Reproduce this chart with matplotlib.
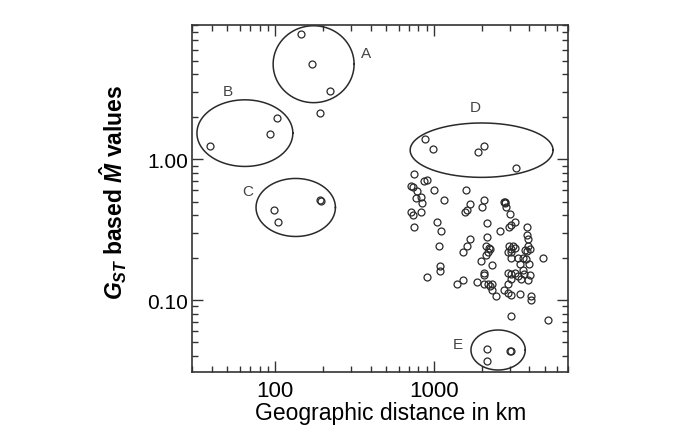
import numpy as np
import matplotlib.pyplot as plt
from matplotlib.ticker import FixedLocator, FixedFormatter, LogLocator, NullFormatter

plt.rcParams['font.family'] = ['Liberation Sans', 'DejaVu Sans']
plt.rcParams['mathtext.fontset'] = 'custom'
plt.rcParams['mathtext.it'] = 'Liberation Sans:italic:bold'
plt.rcParams['mathtext.rm'] = 'Liberation Sans:bold'
plt.rcParams['mathtext.bf'] = 'Liberation Sans:bold'

# geographic distance (km) and Gst based M values
dist = [146, 171, 223, 191,                      # A (+1 outside)
        102.5, 93.4, 38.9,                       # B
        195.5, 193, 99, 104,                     # C
        877, 982, 1892, 2081, 3304,              # D
        750, 714, 743, 868, 912, 780, 826, 769, 847, 1005, 1151, 1593, 1698,
        1617, 1578, 2001, 2080, 2761, 2812, 2790, 2851, 2999, 714, 743, 826,
        750, 1040, 1107, 2162, 2630, 2965, 3069, 3252, 3873, 3873, 3917, 1698,
        1617, 1518, 1080, 2162, 2142, 2239, 2183, 2132, 2270, 2965, 3041, 3148,
        3252, 2924, 3069, 3917, 3767, 3873, 4009, 4864, 1982, 3041, 3381, 3639,
        3820, 3954, 3467, 2317, 1096, 1096, 912, 1398, 1518, 2061, 2080, 1871,
        2061, 2208, 2317, 2270, 2924, 3041, 3252, 3381, 3516, 3639, 3724, 4009,
        3917, 3041, 2924, 2317, 2466, 2786, 2924, 3041, 3467, 4065, 4065, 3069,
        5232,
        2162, 2150, 3041, 3010]                  # E
mval = [7.79, 4.72, 3.05, 2.11,
        1.96, 1.52, 1.24,
        0.506, 0.51, 0.435, 0.357,
        1.39, 1.18, 1.13, 1.24, 0.86,
        0.78, 0.65, 0.63, 0.70, 0.71, 0.59, 0.54, 0.53, 0.49, 0.60, 0.51, 0.60, 0.48,
        0.435, 0.42, 0.454, 0.51, 0.50, 0.49, 0.497, 0.454, 0.41, 0.42, 0.40, 0.42,
        0.33, 0.36, 0.31, 0.35, 0.31, 0.33, 0.34, 0.36, 0.33, 0.29, 0.27, 0.27,
        0.24, 0.22, 0.24, 0.28, 0.24, 0.236, 0.22, 0.21, 0.23, 0.24, 0.23, 0.24,
        0.235, 0.22, 0.22, 0.24, 0.227, 0.224, 0.232, 0.20, 0.19, 0.198, 0.198, 0.198,
        0.195, 0.18, 0.18, 0.178, 0.175, 0.16, 0.146, 0.13, 0.139, 0.155, 0.15, 0.135,
        0.131, 0.131, 0.13, 0.126, 0.155, 0.153, 0.155, 0.149, 0.142, 0.164, 0.153, 0.15,
        0.139, 0.141, 0.13, 0.118, 0.107, 0.118, 0.113, 0.108, 0.11, 0.107, 0.10, 0.077,
        0.072,
        0.045, 0.037, 0.0435, 0.0437]

# ellipses drawn round the groups: centre (data) and half axes in decades
grp = ['A', 'B', 'C', 'D', 'E']
ell_cx = [175, 64.6, 135, 2000, 2541]
ell_cy = [4.72, 1.53, 0.454, 1.158, 0.0442]
ell_rx = [0.255, 0.302, 0.25, 0.45, 0.171]
ell_ry = [0.273, 0.2365, 0.206, 0.193, 0.142]
lab_x = [372, 50.6, 67.8, 1815, 1426]
lab_y = [5.71, 3.05, 0.596, 2.36, 0.0488]

fig = plt.figure(figsize=(6.84, 4.35), dpi=100)
ax = fig.add_axes([0.2807, 0.1432, 0.5497, 0.7977])
ax.set_xscale('log')
ax.set_yscale('log')

ax.plot(dist, mval, 'o', mfc='none', mec='#2a2a2a', ms=5, mew=0.9, ls='none')

t = np.linspace(0, 2 * np.pi, 300)
for g, cx, cy, rx, ry, lx, ly in zip(grp, ell_cx, ell_cy, ell_rx, ell_ry, lab_x, lab_y):
    ex = 10 ** (np.log10(cx) + rx * np.cos(t))
    ey = 10 ** (np.log10(cy) + ry * np.sin(t))
    ax.plot(ex, ey, color='#2a2a2a', lw=1.1)
    ax.text(lx, ly, g, fontsize=11, color='#444444', ha='center', va='center')

ax.set_xlim(30, 7000)
ax.set_ylim(0.031, 9)

ax.xaxis.set_major_locator(FixedLocator([100, 1000]))
ax.xaxis.set_major_formatter(FixedFormatter(['100', '1000']))
ax.yaxis.set_major_locator(FixedLocator([0.1, 1.0]))
ax.yaxis.set_major_formatter(FixedFormatter(['0.10', '1.00']))
for a in (ax.xaxis, ax.yaxis):
    a.set_minor_locator(LogLocator(base=10, subs=np.arange(2, 10), numticks=20))
    a.set_minor_formatter(NullFormatter())

ax.tick_params(which='both', direction='in', top=True, right=True, color='#333333', width=1)
ax.tick_params(which='major', length=8)
ax.tick_params(which='minor', length=4.5)
ax.tick_params(axis='x', labelsize=16, pad=6)
ax.tick_params(axis='y', labelsize=15, pad=3)
for s in ax.spines.values():
    s.set_color('#333333')
    s.set_linewidth(1.2)

ax.set_xlabel('Geographic distance in km', fontsize=16.5)
ax.xaxis.set_label_coords(0.529, -0.085)
ax.set_ylabel(r'$G_{ST}$ based $\hat{M}$ values', fontsize=16.5, fontweight='bold')
ax.yaxis.set_label_coords(-0.168, 0.52)

fig.savefig('out.png', dpi=100)
